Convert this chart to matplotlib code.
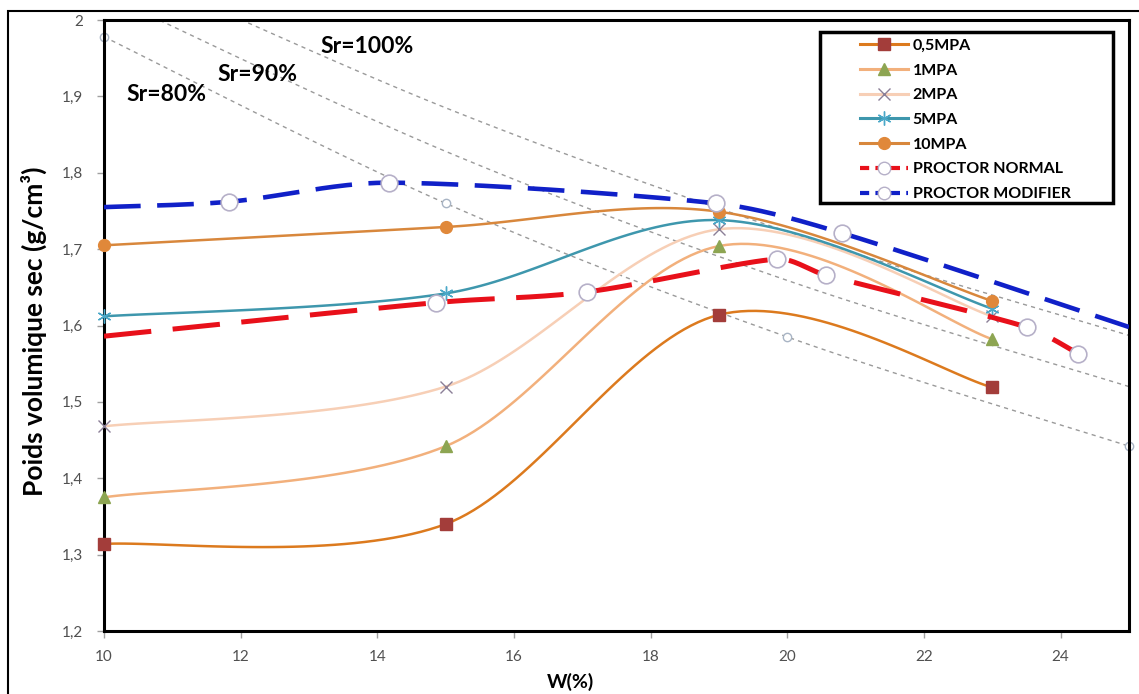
import numpy as np
import matplotlib
matplotlib.use('Agg')
import matplotlib.pyplot as plt
from matplotlib.lines import Line2D
from matplotlib.patches import Rectangle

plt.rcParams['font.family'] = ['Lato', 'DejaVu Sans']

# --- data ---
w_mpa = [10, 15, 19, 23]
g_05mpa = [1.314, 1.340, 1.614, 1.519]
g_1mpa = [1.375, 1.442, 1.704, 1.582]
g_2mpa = [1.468, 1.520, 1.726, 1.612]
g_5mpa = [1.612, 1.642, 1.738, 1.622]
g_10mpa = [1.705, 1.729, 1.749, 1.632]

w_pn = [10, 14.86, 17.07, 19.85, 20.56, 23.5, 24.26]
g_pn = [1.586, 1.630, 1.644, 1.687, 1.666, 1.598, 1.563]

w_pm = [10, 11.83, 14.17, 18.95, 20.8, 25]
g_pm = [1.755, 1.762, 1.787, 1.760, 1.721, 1.598]

w_sr = [10, 15, 20, 25]
g_sr80 = [1.978, 1.760, 1.585, 1.442]
g_sr90 = [2.034, 1.828, 1.659, 1.520]
g_sr100 = [2.081, 1.885, 1.723, 1.587]

yticks = [1.2, 1.3, 1.4, 1.5, 1.6, 1.7, 1.8, 1.9, 2.0]
ytick_labels = ['1,2', '1,3', '1,4', '1,5', '1,6', '1,7', '1,8', '1,9', '2']
xticks = [10, 12, 14, 16, 18, 20, 22, 24]


def smooth(x, y, n=40):
    # Excel style smoothed line (Bezier through the points, tangents kept inside each segment)
    p = np.column_stack([x, y]).astype(float)
    ext = np.vstack([p[0], p, p[-1]])
    out = []
    t = np.linspace(0, 1, n)[:, None]
    for i in range(len(p) - 1):
        p0, p1, p2, p3 = ext[i], ext[i + 1], ext[i + 2], ext[i + 3]
        dx = p2[0] - p1[0]
        m1 = (p2 - p0) / 6
        m2 = (p3 - p1) / 6
        if abs(m1[0]) > dx / 3:
            m1 = m1 * (dx / 3) / abs(m1[0])
        if abs(m2[0]) > dx / 3:
            m2 = m2 * (dx / 3) / abs(m2[0])
        c1 = p1 + m1
        c2 = p2 - m2
        seg = ((1 - t) ** 3) * p1 + 3 * ((1 - t) ** 2) * t * c1 + 3 * (1 - t) * t ** 2 * c2 + t ** 3 * p2
        out.append(seg if i == 0 else seg[1:])
    out = np.vstack(out)
    return out[:, 0], out[:, 1]


fig = plt.figure(figsize=(11.39, 6.94), dpi=100)
ax = fig.add_axes([104 / 1139, 1 - 631 / 694, 1025 / 1139, 611 / 694])

# saturation lines
for g in [g_sr80, g_sr90, g_sr100]:
    sx, sy = smooth(w_sr, g)
    ax.plot(sx, sy, color='#9a9a9a', lw=1.0, ls=(0, (3, 3)), zorder=1)
ax.plot(w_sr, g_sr80, ls='none', marker='o', ms=6, mfc='white', mec='#a8b4c4', mew=1.0,
        zorder=1, clip_on=False)

ax.text(13.16, 1.965, 'Sr=100%', fontsize=16.5, fontweight='bold', ha='left', va='center')
ax.text(11.66, 1.929, 'Sr=90%', fontsize=16.5, fontweight='bold', ha='left', va='center')
ax.text(10.33, 1.903, 'Sr=80%', fontsize=16.5, fontweight='bold', ha='left', va='center')

# pressure series
series = [
    ('0,5MPA', g_05mpa, '#dc7a1e', dict(marker='s', ms=8.5, mfc='#a33d3a', mec='#a33d3a')),
    ('1MPA', g_1mpa, '#f2b07c', dict(marker='^', ms=9, mfc='#8da552', mec='#8da552')),
    ('2MPA', g_2mpa, '#f7cfb6', dict(marker='x', ms=8.5, mfc='none', mec='#8b7f97', mew=1.0)),
    ('5MPA', g_5mpa, '#3e97ad', dict(marker=(6, 2, 0), ms=10, mec='#4aa8c8', mew=1.0)),
    ('10MPA', g_10mpa, '#d8873c', dict(marker='o', ms=8.5, mfc='#e0883a', mec='#e0883a')),
]
handles = []
for name, g, col, mk in series:
    sx, sy = smooth(w_mpa, g)
    ax.plot(sx, sy, color=col, lw=1.8, zorder=3)
    ax.plot(w_mpa, g, ls='none', zorder=4, clip_on=False, **mk)
    handles.append(Line2D([], [], color=col, lw=2.2, **mk))

# proctor curves
px, py = smooth(w_pn, g_pn)
ax.plot(px, py, color='#e8101a', lw=3.6, dashes=(9.5, 4.3), zorder=5)
ax.plot(w_pn[1:], g_pn[1:], ls='none', marker='o', ms=12, mfc='white', mec='#b6b0c8', mew=1.2, zorder=6)
mx, my = smooth(w_pm, g_pm)
ax.plot(mx, my, color='#1020c8', lw=3.3, dashes=(8.0, 3.6), zorder=5)
ax.plot(w_pm[1:-1], g_pm[1:-1], ls='none', marker='o', ms=12, mfc='white', mec='#b6b0c8', mew=1.2, zorder=6)
handles.append(Line2D([], [], color='#e8101a', lw=3, dashes=(2.2, 1.5), marker='o', ms=9,
                      mfc='white', mec='#b6b0c8'))
handles.append(Line2D([], [], color='#1020c8', lw=3, dashes=(2.2, 1.5), marker='o', ms=9,
                      mfc='white', mec='#b6b0c8'))
labels = [s[0] for s in series] + ['PROCTOR NORMAL', 'PROCTOR MODIFIER']

ax.set_xlim(10, 25)
ax.set_ylim(1.2, 2.0)
ax.set_xticks(xticks)
ax.set_yticks(yticks)
ax.set_yticklabels(ytick_labels)
ax.tick_params(axis='both', direction='out', length=5, width=1, color='#a0a0a0',
               labelcolor='#505050', labelsize=11)
ax.tick_params(axis='x', pad=9)
ax.tick_params(axis='y', pad=10)
for s in ax.spines.values():
    s.set_linewidth(2.2)
    s.set_color('black')

ax.set_ylabel('Poids volumique sec (g/cm³)', fontsize=19, fontweight='bold')
ax.yaxis.set_label_coords(-0.056, 0.49)
ax.set_xlabel('W(%)', fontsize=14, fontweight='bold')
ax.xaxis.set_label_coords(0.455, -0.068)

# legend box
ax.add_patch(Rectangle((0.6985, 0.7005), 0.2855, 0.2795, transform=ax.transAxes,
                       facecolor='white', edgecolor='black', lw=2.5, zorder=8))
leg = ax.legend(handles, labels, loc='upper left', bbox_to_anchor=(0.7376, 0.9695),
                frameon=False, borderpad=0, borderaxespad=0, handlelength=3.0,
                handletextpad=0.3, labelspacing=0.66, prop={'weight': 'bold', 'size': 11.5})
leg.set_zorder(9)

# outer frame
fig.patches.append(Rectangle((8 / 1139, -0.05), 1.2, 1 - 11 / 694 + 0.05, transform=fig.transFigure,
                             fill=False, edgecolor='black', lw=1.5))

fig.savefig('out.png', dpi=100)
